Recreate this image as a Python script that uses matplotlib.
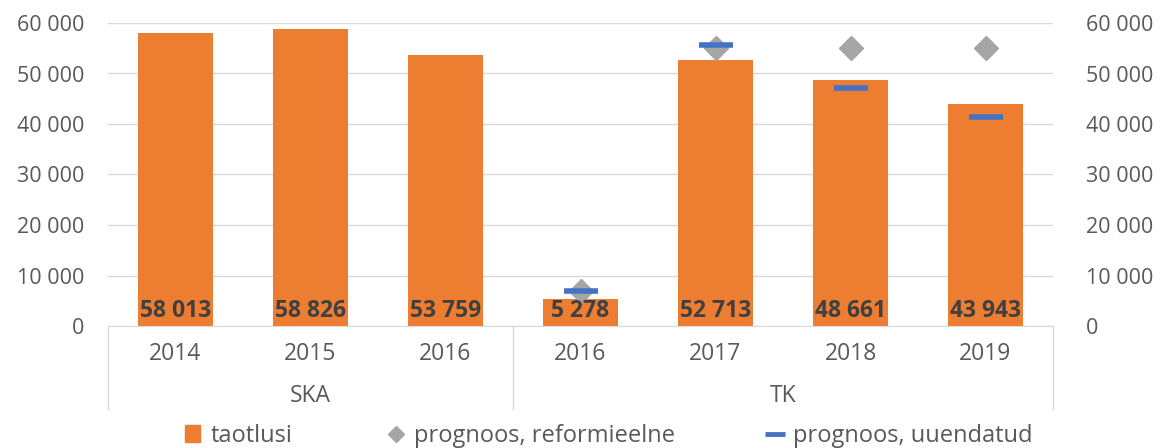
import numpy as np
import matplotlib.pyplot as plt
from matplotlib.lines import Line2D
from matplotlib.patches import Patch

plt.rcParams['font.family'] = ['Open Sans', 'DejaVu Sans']

years = ['2014', '2015', '2016', '2016', '2017', '2018', '2019']
groups = ['SKA', 'TK']
group_sizes = [3, 4]
taotlusi = [58013, 58826, 53759, 5278, 52713, 48661, 43943]
prog_reform = [np.nan, np.nan, np.nan, 7000, 55000, 55000, 55000]
prog_uuend = [np.nan, np.nan, np.nan, 7000, 55700, 47200, 41400]

W, H = 1160, 448
fig = plt.figure(figsize=(W / 100, H / 100), dpi=100)
x0, x1, ytop, ybot = 108, 1053, 23, 326
ax = fig.add_axes([x0 / W, 1 - ybot / H, (x1 - x0) / W, (ybot - ytop) / H])

x = np.arange(len(years))
grey = '#595959'
fs = 15.5
ax.set_ylim(0, 60000)
ax.set_xlim(-0.5, len(years) - 0.5)
ticks = np.arange(0, 60001, 10000)
fmt = lambda v: f'{v:,.0f}'.replace(',', ' ')
ax.set_yticks(ticks)
ax.set_yticklabels([fmt(t) for t in ticks], fontsize=fs, color=grey)
ax.yaxis.grid(True, color='#d9d9d9', lw=1)
ax.set_axisbelow(True)
ax.tick_params(axis='y', length=0, pad=17)
ax.set_xticks([])
for s in ['top', 'right', 'left']:
    ax.spines[s].set_visible(False)
ax.spines['bottom'].set_color('#d9d9d9')

ax2 = ax.twinx()
ax2.set_ylim(0, 60000)
ax2.set_yticks(ticks)
ax2.set_yticklabels([fmt(t) for t in ticks], fontsize=fs, color=grey)
ax2.tick_params(axis='y', length=0, pad=24)
for s in ax2.spines.values():
    s.set_visible(False)

bars = ax.bar(x, taotlusi, width=0.55, color='#ED7D31', zorder=2)
for xi, v in zip(x, taotlusi):
    ax.text(xi, 500, fmt(v), ha='center', va='bottom', fontsize=16.5,
            fontweight='bold', color='#404040', zorder=5)

ax.plot(x, prog_reform, ls='none', marker='D', ms=12, color='#A5A5A5', zorder=3)
ax.plot(x, prog_uuend, ls='none', marker='_', ms=24, mew=4, color='#4472C4', zorder=4)

# category axis below the plot
for xi, y in zip(x, years):
    ax.text(xi, -5500, y, ha='center', va='center', fontsize=16.5, color=grey)
start = 0
bounds = [-0.5]
for g, n in zip(groups, group_sizes):
    ax.text(start + (n - 1) / 2, -13800, g, ha='center', va='center', fontsize=16.5, color=grey)
    start += n
    bounds.append(start - 0.5)
for b in bounds:
    ax.plot([b, b], [0, -16500], color='#d9d9d9', lw=1, clip_on=False)

# legend: one entry per legend so each sits where the reference has it
entries = [
    (Patch(color='#ED7D31'), 'taotlusi', 185),
    (Line2D([], [], ls='none', marker='D', ms=8, color='#A5A5A5'), 'prognoos, reformieelne', 388),
    (Line2D([], [], ls='none', marker='_', ms=15, mew=3.5, color='#4472C4'), 'prognoos, uuendatud', 767),
]
for h, lab, px in entries:
    fig.legend([h], [lab], loc='center left', bbox_to_anchor=(px / W, 1 - 436 / H),
               frameon=False, fontsize=17, labelcolor=grey, handlelength=0.65,
               handletextpad=0.45, borderpad=0, borderaxespad=0)

fig.savefig('out.png', dpi=100)
